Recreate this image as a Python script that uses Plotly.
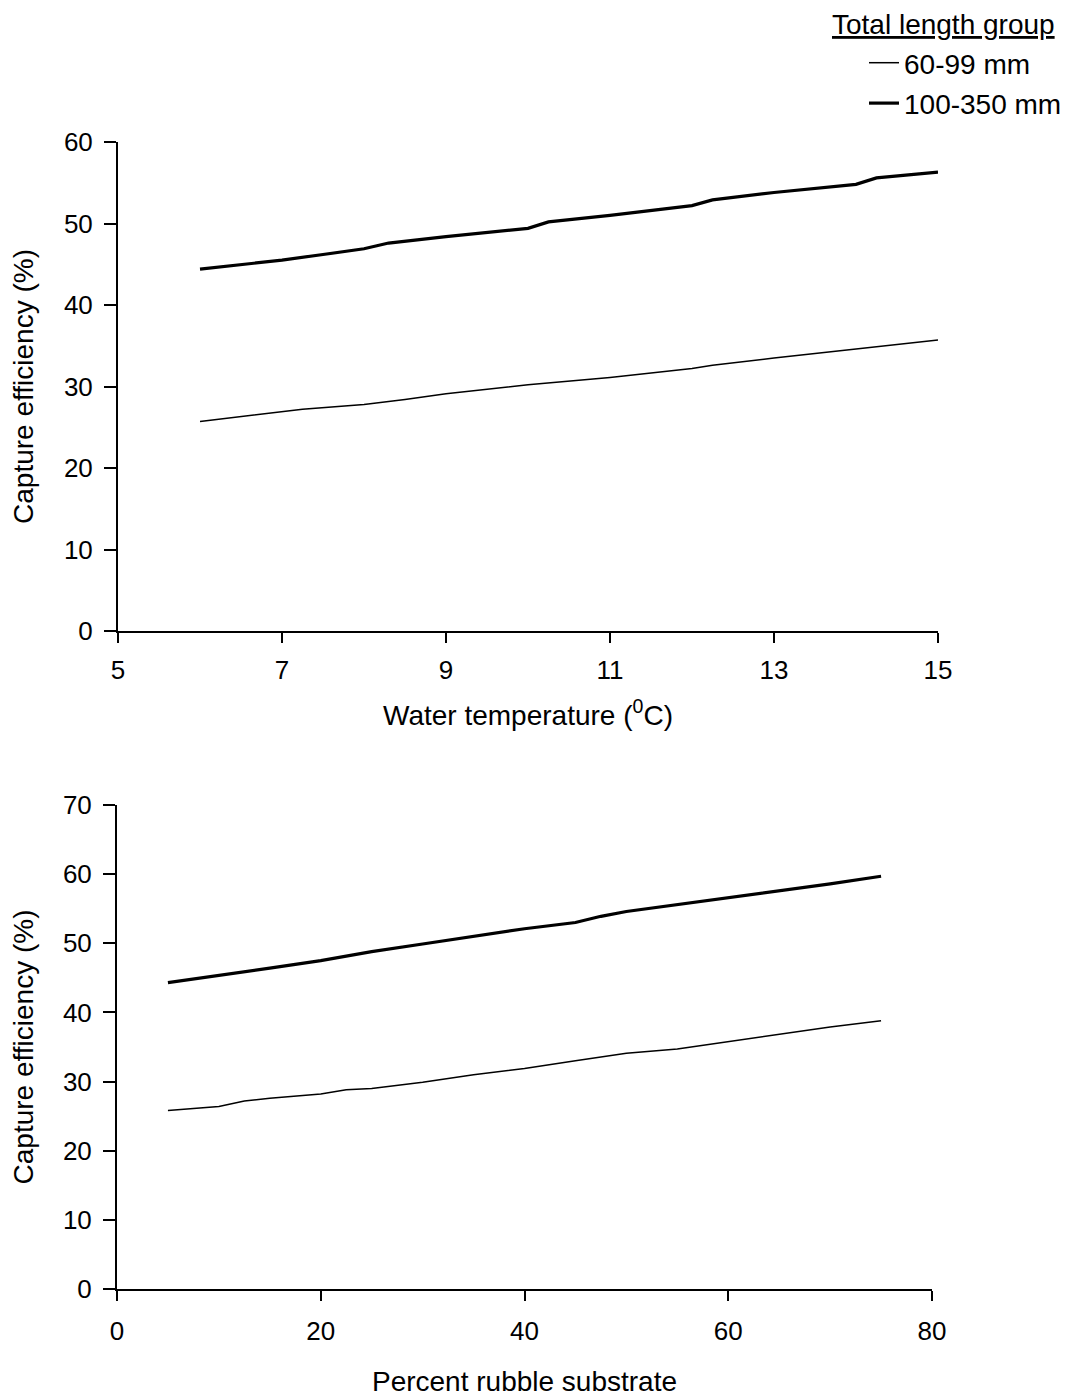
import plotly.graph_objects as go

# Top panel: water temperature
temp_small = [6, 7, 7.25, 8, 8.5, 9, 10, 11, 12, 12.25, 13, 14, 15]
eff_temp_small = [25.7, 26.9, 27.2, 27.8, 28.4, 29.1, 30.2, 31.1, 32.2, 32.6, 33.5, 34.6, 35.7]
temp_large = [6, 7, 7.5, 8, 8.3, 9, 10, 10.25, 11, 12, 12.25, 13, 14, 14.25, 15]
eff_temp_large = [44.4, 45.5, 46.2, 46.9, 47.6, 48.4, 49.4, 50.2, 51.0, 52.2, 52.9, 53.8, 54.8, 55.6, 56.3]

# Bottom panel: percent rubble substrate
rubble_small = [5, 10, 12.5, 15, 20, 22.5, 25, 30, 35, 40, 45, 50, 55, 60, 65, 70, 75]
eff_rubble_small = [25.8, 26.4, 27.2, 27.6, 28.2, 28.8, 29.0, 29.9, 31.0, 31.9, 33.0, 34.1, 34.7, 35.8, 36.8, 37.9, 38.8]
rubble_large = [5, 10, 15, 20, 25, 30, 35, 40, 45, 47.5, 50, 55, 60, 65, 70, 75]
eff_rubble_large = [44.3, 45.3, 46.4, 47.5, 48.8, 49.9, 51.0, 52.1, 53.0, 53.9, 54.6, 55.6, 56.5, 57.6, 58.6, 59.7]

series_names = ["60-99 mm", "100-350 mm"]
legend_title = "<u>Total length group</u>"

FONT = "Liberation Sans, Arial, sans-serif"
FS_TICK = 26
FS_TEXT = 28
THIN, THICK = 1.5, 3.2

fig = go.Figure()
fig.add_trace(go.Scatter(x=temp_small, y=eff_temp_small, mode="lines", name=series_names[0],
                         line=dict(color="black", width=THIN), xaxis="x", yaxis="y", legendgroup="a"))
fig.add_trace(go.Scatter(x=temp_large, y=eff_temp_large, mode="lines", name=series_names[1],
                         line=dict(color="black", width=THICK), xaxis="x", yaxis="y", legendgroup="b"))
fig.add_trace(go.Scatter(x=rubble_small, y=eff_rubble_small, mode="lines", showlegend=False,
                         line=dict(color="black", width=THIN), xaxis="x2", yaxis="y2"))
fig.add_trace(go.Scatter(x=rubble_large, y=eff_rubble_large, mode="lines", showlegend=False,
                         line=dict(color="black", width=THICK), xaxis="x2", yaxis="y2"))

W, H = 1070, 1397
OFF = 8  # page body margin


def px_x(p):
    return (p - OFF) / W


def px_y(p):
    return 1 - (p - OFF) / H


axis_common = dict(showline=True, linecolor="black", linewidth=2, ticks="outside",
                   tickwidth=2, tickcolor="black", showgrid=False, zeroline=False,
                   tickfont=dict(size=FS_TICK, color="black", family=FONT))

fig.update_layout(
    width=W, height=H,
    margin=dict(l=0, r=0, t=0, b=0, autoexpand=False),
    paper_bgcolor="white", plot_bgcolor="white",
    font=dict(family=FONT, color="black", size=FS_TEXT),
    xaxis=dict(domain=[px_x(118), px_x(938)], range=[5, 15], tickvals=[5, 7, 9, 11, 13, 15],
               anchor="y", ticklen=10, ticklabelstandoff=5,
               title=dict(text="Water temperature (<sup>0</sup>C)", font=dict(size=FS_TEXT), standoff=21),
               **axis_common),
    yaxis=dict(domain=[px_y(631), px_y(142)], range=[0, 60], tickvals=[0, 10, 20, 30, 40, 50, 60],
               anchor="x", ticklen=12, ticklabelstandoff=6,
               title=dict(text="Capture efficiency (%)", font=dict(size=FS_TEXT), standoff=26),
               **axis_common),
    xaxis2=dict(domain=[px_x(117), px_x(932)], range=[0, 80], tickvals=[0, 20, 40, 60, 80],
                anchor="y2", ticklen=10, ticklabelstandoff=8,
                title=dict(text="Percent rubble substrate", font=dict(size=FS_TEXT), standoff=26),
                **axis_common),
    yaxis2=dict(domain=[px_y(1289), px_y(805)], range=[0, 70], tickvals=[0, 10, 20, 30, 40, 50, 60, 70],
                anchor="x2", ticklen=12, ticklabelstandoff=6,
                title=dict(text="Capture efficiency (%)", font=dict(size=FS_TEXT), standoff=26),
                **axis_common),
    legend=dict(x=px_x(864), xanchor="left", y=px_y(38), yanchor="top",
                font=dict(size=FS_TEXT), traceorder="grouped", tracegroupgap=1,
                bgcolor="rgba(0,0,0,0)"),
    annotations=[dict(text=legend_title, x=px_x(1057), y=px_y(25), xref="paper", yref="paper",
                      xanchor="right", yanchor="middle", showarrow=False, font=dict(size=FS_TEXT))],
)

fig.write_html("out.html")
